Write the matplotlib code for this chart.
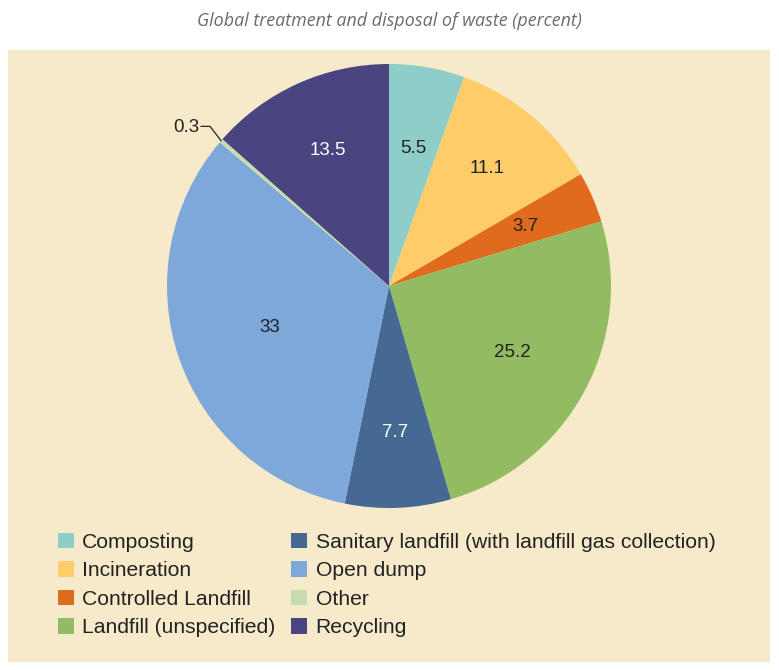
import numpy as np
import matplotlib
matplotlib.use("Agg")
import matplotlib.pyplot as plt
from matplotlib.patches import Rectangle

categories = ["Composting", "Incineration", "Controlled Landfill", "Landfill (unspecified)",
              "Sanitary landfill (with landfill gas collection)", "Open dump", "Other", "Recycling"]
values = [5.5, 11.1, 3.7, 25.2, 7.7, 33, 0.3, 13.5]
value_labels = ["5.5", "11.1", "3.7", "25.2", "7.7", "33", "0.3", "13.5"]
colors = ["#8ecdc8", "#fecd6a", "#e06b1f", "#92bc62", "#456993", "#7ea8da", "#c6ddb1", "#4a4580"]
text_colors = ["#222222", "#222222", "#222222", "#222222", "white", "#222222", "#222222", "white"]
label_r = [0.63, 0.69, 0.67, 0.63, 0.66, 0.57, None, 0.67]

W, H = 779, 670
fig = plt.figure(figsize=(W / 100, H / 100), dpi=100)
fig.patch.set_facecolor("white")

# beige panel
fig.patches.append(Rectangle((8 / W, 8 / H), 762 / W, 612 / H, transform=fig.transFigure,
                             facecolor="#f6eacb", edgecolor="none", zorder=-5))

fig.text(389 / W, 1 - 21 / H, "Global treatment and disposal of waste (percent)",
         ha="center", va="center", fontsize=12.9, style="italic", color="#6b6b6b",
         family=["Open Sans", "DejaVu Sans"])

cx, cy, r = 389, 286, 222
ax = fig.add_axes([(cx - r) / W, (H - cy - r) / H, 2 * r / W, 2 * r / H])
ax.set_facecolor("none")
wedges, _ = ax.pie(values, colors=colors, startangle=90, counterclock=False,
                   wedgeprops=dict(linewidth=0), radius=1)
ax.set_xlim(-1, 1)
ax.set_ylim(-1, 1)
ax.set_aspect("equal")
ax.axis("off")

for w, lab, tc, rr in zip(wedges, value_labels, text_colors, label_r):
    ang = np.deg2rad((w.theta1 + w.theta2) / 2)
    if rr is None:
        # small slice: leader line out to the left
        x0, y0 = np.cos(ang) * 1.0, np.sin(ang) * 1.0
        ax.plot([x0, x0 - 0.05, x0 - 0.09], [y0, y0 + 0.065, y0 + 0.065],
                color="#222222", lw=0.9, clip_on=False)
        ax.text(x0 - 0.1, y0 + 0.062, lab, ha="right", va="center", fontsize=13.5,
                color="#222222", family=["Liberation Sans", "DejaVu Sans"])
        continue
    ax.text(np.cos(ang) * rr, np.sin(ang) * rr, lab, ha="center", va="center",
            fontsize=13.5, color=tc, family=["Liberation Sans", "DejaVu Sans"])

leg = fig.legend(wedges, categories, ncol=2, loc="upper left",
                 bbox_to_anchor=(39 / W, 1 - 514 / H), frameon=False,
                 prop=dict(family=["Liberation Sans", "DejaVu Sans"], size=15.2),
                 handlelength=0.75, handleheight=0.75, handletextpad=0.4,
                 labelspacing=0.44, columnspacing=0.75, labelcolor="#222222")

fig.savefig("out.png", dpi=100, facecolor="white")
